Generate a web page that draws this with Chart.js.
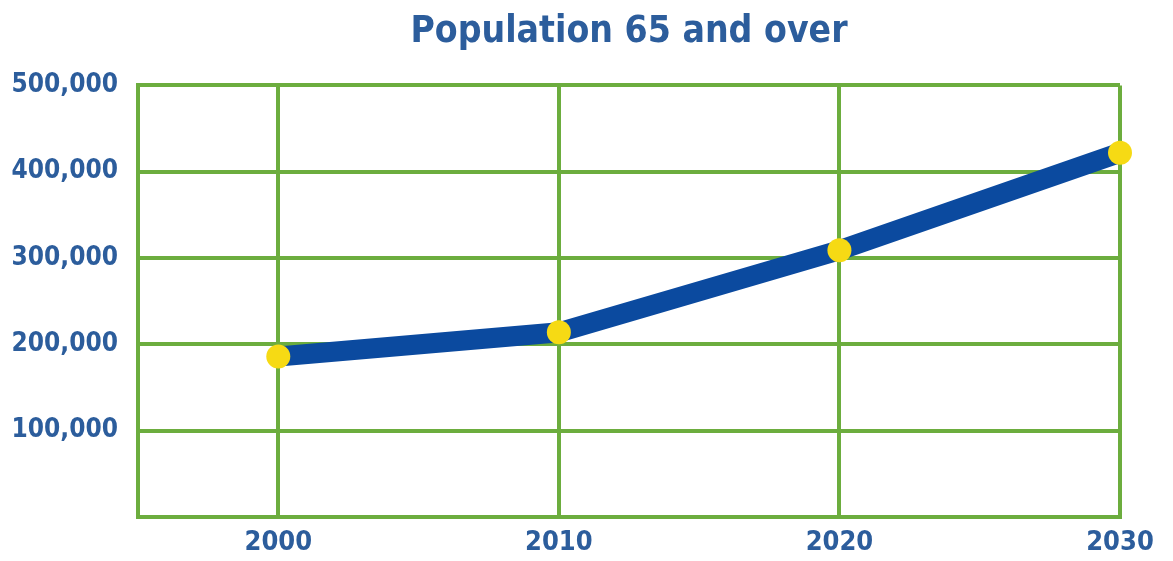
<!DOCTYPE html>
<html>
<head>
<meta charset="utf-8">
<title>Population 65 and over</title>
<script src="https://cdn.jsdelivr.net/npm/chart.js@4/dist/chart.umd.min.js"></script>
<style>
    html, body { margin: 0; padding: 0; background: #ffffff; }
    #chart { display: block; }
</style>
</head>
<body>
<canvas id="chart" width="1173" height="561"></canvas>
<script>
// values
var years = [2000, 2010, 2020, 2030];
var population = [186000, 214000, 309000, 422000];
var yTicks = [0, 100000, 200000, 300000, 400000, 500000];

var fontFamily = '"DejaVu Sans Condensed", "Noto Sans", sans-serif';
var gridGreen = '#6cad3e';
var textBlue = '#2c5d9c';

var ctx = document.getElementById('chart').getContext('2d');

var chart = new Chart(ctx, {
    type: 'line',
    data: {
        datasets: [{
            label: 'Population 65 and over',
            data: years.map(function (y, i) { return { x: y, y: population[i] }; }),
            borderColor: '#0b4a9f',
            borderWidth: 20,
            tension: 0,
            pointRadius: 12,
            pointBackgroundColor: '#f6da14',
            pointBorderWidth: 0,
            clip: false
        }]
    },
    options: {
        responsive: false,
        animation: false,
        layout: {
            padding: { left: 0, right: 53, top: 0, bottom: 0 }
        },
        plugins: {
            legend: { display: false },
            tooltip: { enabled: false },
            title: {
                display: true,
                text: 'Population 65 and over',
                color: textBlue,
                fullSize: false,
                font: { family: fontFamily, size: 37, weight: 'bold', lineHeight: 1.2 },
                padding: { top: 10, bottom: 31 }
            }
        },
        scales: {
            x: {
                type: 'linear',
                min: 1995,
                max: 2030,
                afterBuildTicks: function (scale) {
                    scale.ticks = years.map(function (y) { return { value: y }; });
                },
                afterFit: function (scale) { scale.height = 44; },
                grid: { color: gridGreen, lineWidth: 4, drawTicks: false },
                border: { color: gridGreen, width: 4 },
                ticks: {
                    color: textBlue,
                    padding: 10,
                    font: { family: fontFamily, size: 27, weight: 'bold' },
                    callback: function (v) { return String(v); }
                }
            },
            y: {
                min: 0,
                max: 500000,
                afterBuildTicks: function (scale) {
                    scale.ticks = yTicks.map(function (v) { return { value: v }; });
                },
                afterFit: function (scale) { scale.width = 138; },
                grid: { color: gridGreen, lineWidth: 4, drawTicks: false },
                border: { color: gridGreen, width: 4 },
                ticks: {
                    color: textBlue,
                    padding: 20,
                    font: { family: fontFamily, size: 26, weight: 'bold' },
                    callback: function (v) { return v === 0 ? '' : v.toLocaleString('en-US'); }
                }
            }
        }
    }
});
</script>
</body>
</html>
